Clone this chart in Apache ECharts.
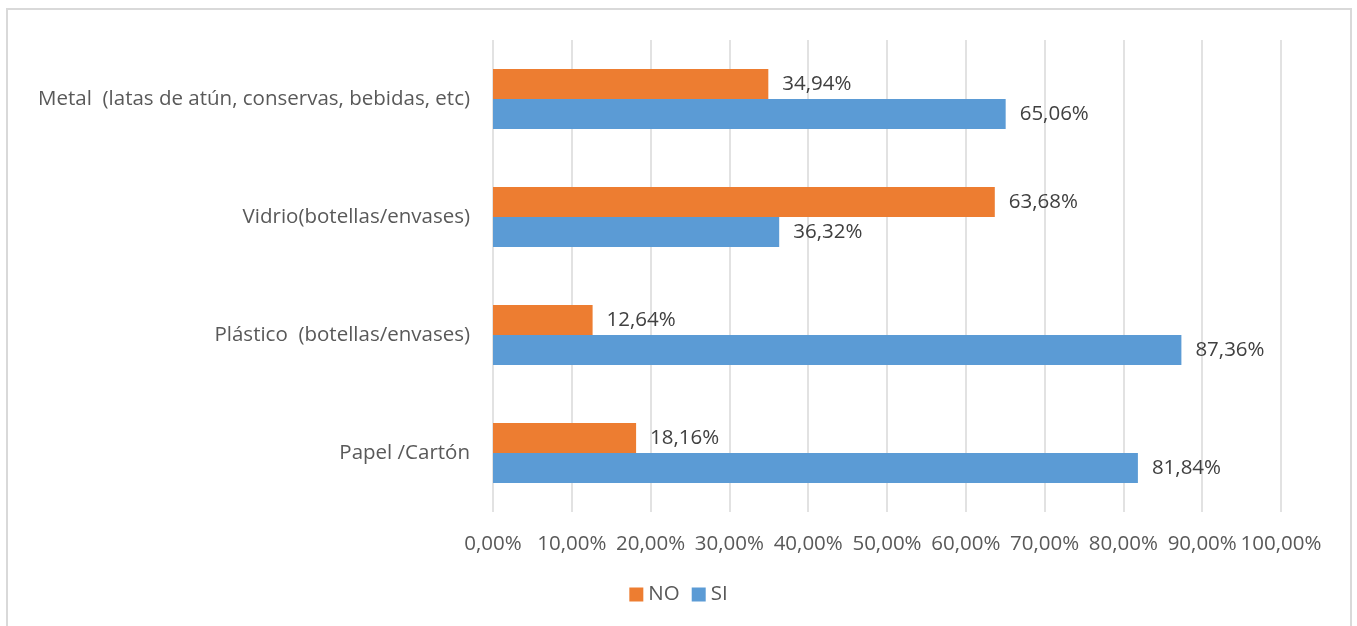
<!DOCTYPE html>
<html><head><meta charset="utf-8">
<script src="https://cdn.jsdelivr.net/npm/echarts@6/dist/echarts.min.js"></script>
<style>html,body{margin:0;padding:0;background:#fff}#c{width:1357px;height:626px}</style>
</head><body><div id="c"></div>
<script>
const categories = ['Papel /Cartón', 'Plástico  (botellas/envases)', 'Vidrio(botellas/envases)', 'Metal  (latas de atún, conservas, bebidas, etc)'];
const seriesNames = ['NO', 'SI'];
const noValues = [18.16, 12.64, 63.68, 34.94];
const siValues = [81.84, 87.36, 36.32, 65.06];
const colors = ['#ED7D31', '#5B9BD5'];
const FONT = '"Open Sans", sans-serif';
const fmt = v => v.toFixed(2).replace('.', ',') + '%';

const chart = echarts.init(document.getElementById('c'), null, {renderer: 'canvas'});
const labelCfg = {show: true, position: 'right', distance: 14, color: '#404040', fontSize: 20.5, fontFamily: FONT,
  formatter: p => fmt(p.value)};
chart.setOption({
  animation: false,
  backgroundColor: '#fff',
  graphic: [{type: 'rect', shape: {x: 7, y: 9, width: 1344, height: 640}, style: {fill: 'none', stroke: '#d9d9d9', lineWidth: 2}, silent: true}],
  legend: {data: seriesNames, bottom: 16, left: 'center', itemWidth: 14, itemHeight: 14, itemGap: 12, icon: 'rect',
    textStyle: {color: '#595959', fontSize: 20.5, fontFamily: FONT}},
  grid: {left: 493, right: 76, top: 40, bottom: 114, containLabel: false},
  xAxis: {type: 'value', min: 0, max: 100, interval: 10,
    axisLine: {show: false}, axisTick: {show: false},
    splitLine: {show: true, lineStyle: {color: '#d9d9d9', width: 1.5}},
    axisLabel: {color: '#595959', fontSize: 20.5, fontFamily: FONT, margin: 22, hideOverlap: false, formatter: v => fmt(v)}},
  yAxis: {type: 'category', data: categories,
    axisLine: {show: false}, axisTick: {show: false},
    axisLabel: {color: '#595959', fontSize: 20.5, fontFamily: FONT, margin: 23}},
  series: [
    {name: 'NO', type: 'bar', data: noValues, itemStyle: {color: colors[0]}, barWidth: 30, barGap: '0%', label: labelCfg},
    {name: 'SI', type: 'bar', data: siValues, itemStyle: {color: colors[1]}, barWidth: 30, barGap: '0%', label: labelCfg}
  ]
});
</script></body></html>
